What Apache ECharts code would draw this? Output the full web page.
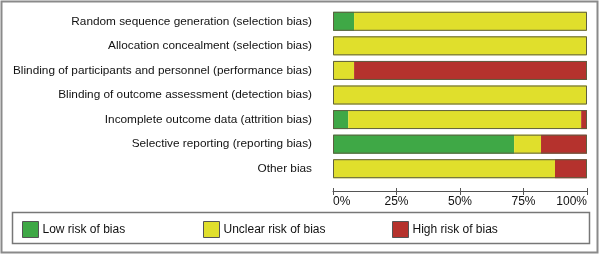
<!DOCTYPE html>
<html>
<head>
<meta charset="utf-8">
<script src="https://cdn.jsdelivr.net/npm/echarts@6/dist/echarts.min.js"></script>
<style>
html,body{margin:0;padding:0;background:#fff;}
#chart{width:600px;height:256px;}
</style>
</head>
<body>
<div id="chart"></div>
<script>
// 偏倚类别
var categories = [
	"Random sequence generation (selection bias)",
	"Allocation concealment (selection bias)",
	"Blinding of participants and personnel (performance bias)",
	"Blinding of outcome assessment (detection bias)",
	"Incomplete outcome data (attrition bias)",
	"Selective reporting (reporting bias)",
	"Other bias"
];
// 各风险占比(%)
var lowRisk = [8.3, 0, 0, 0, 6, 71.3, 0];
var unclearRisk = [91.7, 100, 8.3, 100, 91.7, 10.6, 87.4];
var highRisk = [0, 0, 91.7, 0, 2.3, 18.1, 12.6];
var tickValues = [0, 25, 50, 75, 100];

var seriesNames = ["Low risk of bias", "Unclear risk of bias", "High risk of bias"];
var colors = ["#3fa846", "#e0df2c", "#b5322d"];

var chart = echarts.init(document.getElementById('chart'));
var font = "Arial, 'Liberation Sans', sans-serif";

// 三个图例分开放置
var legends = [22, 203, 392].map(function(x, i){
	return {
		data: [seriesNames[i]],
		left: x, top: 221, padding: 0,
		icon: 'rect', itemWidth: 16, itemHeight: 16,
		itemStyle: {borderColor: '#555', borderWidth: 1},
		textStyle: {fontFamily: font, fontSize: 12, color: '#111', padding: [0, 0, 0, -1]}
	};
});

function stackSeries(name, data, color){
	return {
		name: name, type: 'bar', stack: 'risk', barWidth: 19,
		itemStyle: {color: color}, data: data, silent: true
	};
}

var option = {
	animation: false,
	backgroundColor: '#fff',
	grid: {left: 333, top: 9, width: 254, height: 172},
	legend: legends,
	xAxis: [{
		type: 'value', min: 0, max: 100, interval: 25, offset: 10,
		axisLine: {show: true, lineStyle: {color: '#555', width: 1}},
		axisTick: {show: true, length: 4, lineStyle: {color: '#555'}},
		splitLine: {show: false},
		axisLabel: {
			margin: 5, fontFamily: font, fontSize: 12, color: '#111',
			alignMinLabel: 'left', alignMaxLabel: 'right',
			formatter: function(v){ return tickValues.indexOf(v) >= 0 ? v + '%' : ''; }
		}
	}, {
		type: 'value', min: 0, max: 100, interval: 25, offset: 10, position: 'bottom',
		axisLine: {show: false},
		axisTick: {show: true, inside: true, length: 3, lineStyle: {color: '#555'}},
		axisLabel: {show: false},
		splitLine: {show: false}
	}],
	yAxis: {
		type: 'category', data: categories, inverse: true,
		axisLine: {show: false}, axisTick: {show: false},
		axisLabel: {
			margin: 21, fontFamily: font, fontSize: 11.8, color: '#111',
			padding: [8, 0, 0, 0]
		}
	},
	series: [
		stackSeries(seriesNames[0], lowRisk, colors[0]),
		stackSeries(seriesNames[1], unclearRisk, colors[1]),
		stackSeries(seriesNames[2], highRisk, colors[2]),
		{
			// 外框
			name: 'frame', type: 'bar', barWidth: 19, barGap: '-100%', silent: true,
			itemStyle: {color: 'transparent', borderColor: '#5e5e40', borderWidth: 1},
			data: categories.map(function(){ return 100; }), z: 5
		}
	],
	graphic: [
		{type: 'rect', shape: {x: 1.5, y: 1.5, width: 596, height: 251}, style: {fill: 'none', stroke: '#8a8a8a', lineWidth: 2}},
		{type: 'rect', shape: {x: 12.5, y: 212.5, width: 577, height: 31}, style: {fill: 'none', stroke: '#777', lineWidth: 1.5}}
	]
};
chart.setOption(option);
</script>
</body>
</html>
